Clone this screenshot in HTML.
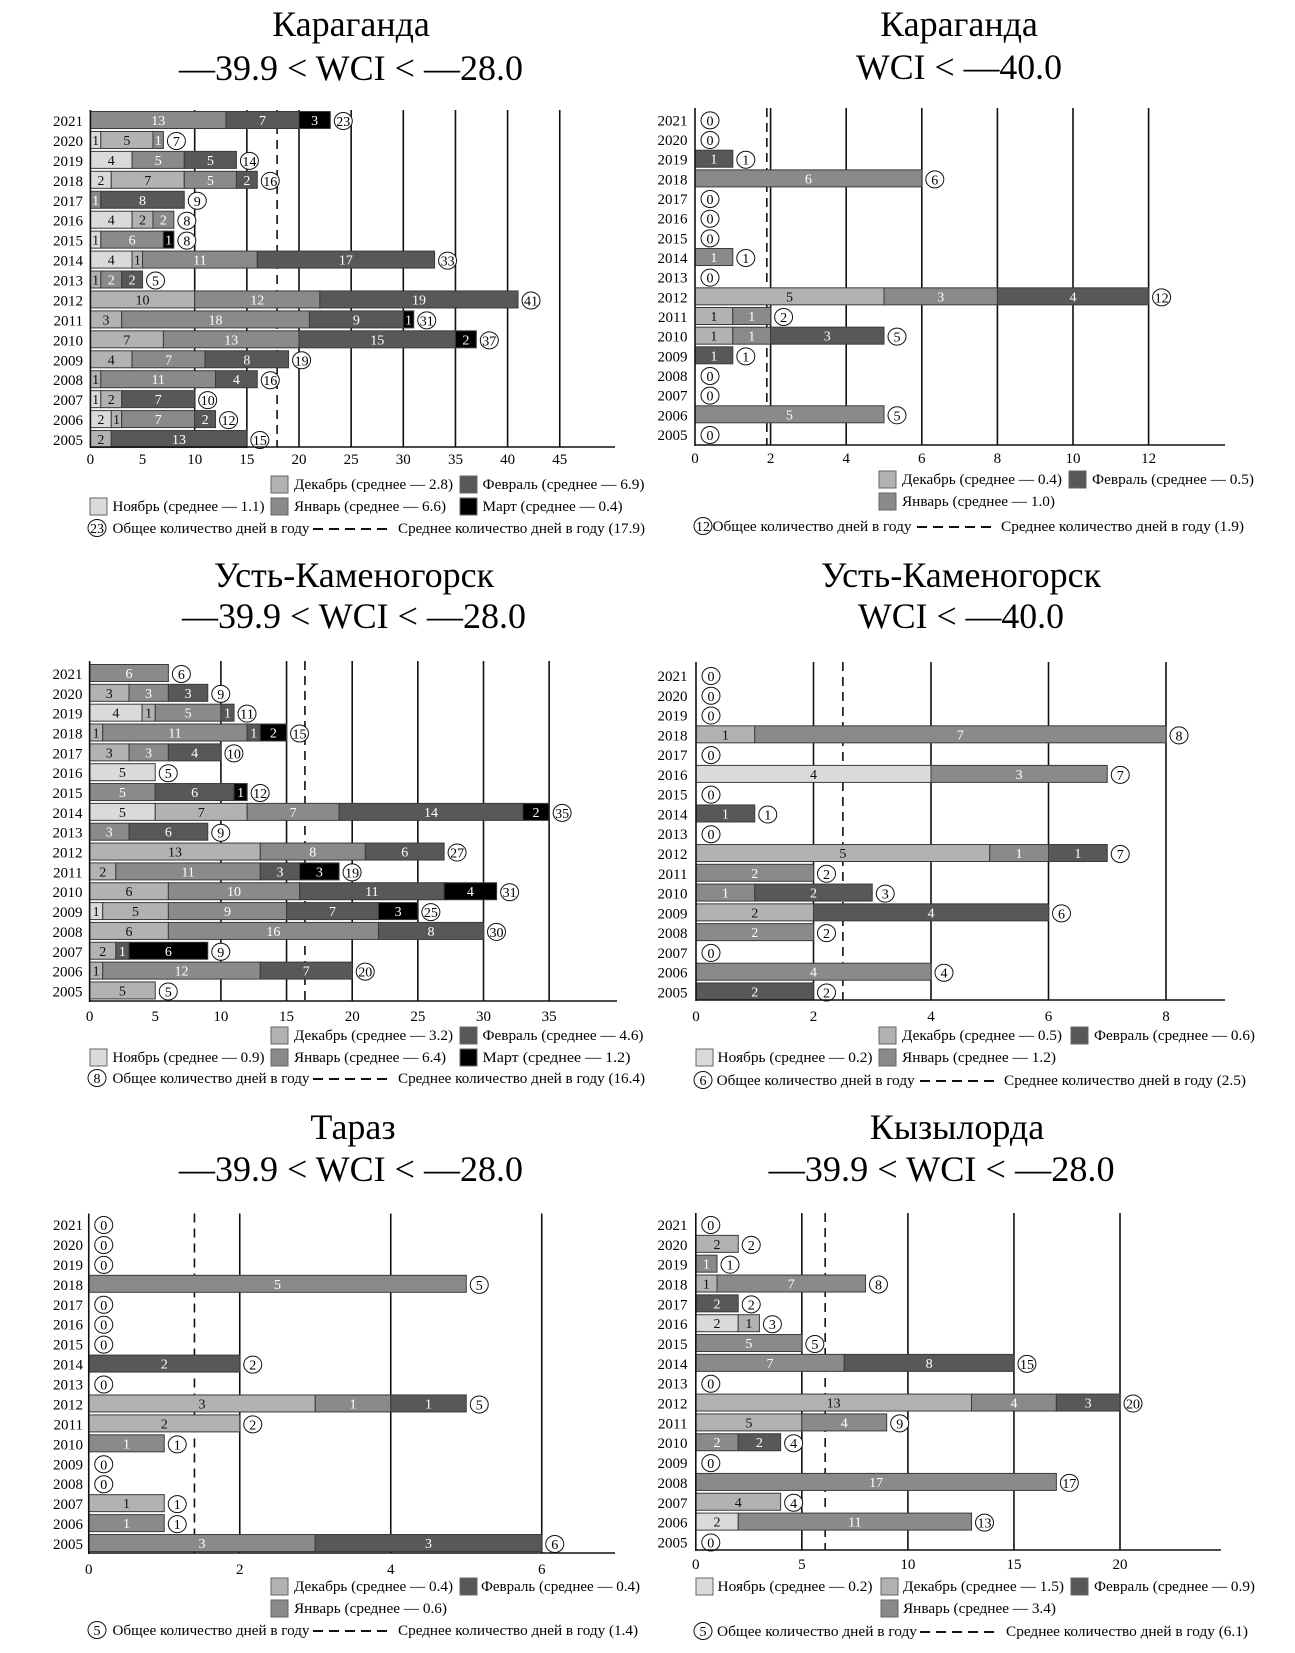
<!DOCTYPE html>
<html><head><meta charset="utf-8"><style>
body{margin:0;background:#fff}
svg{display:block;font-family:"Liberation Serif",serif}
</style></head><body>
<svg id="root" xmlns="http://www.w3.org/2000/svg" width="1295" height="1653" viewBox="0 0 1295 1653"></svg>
<script>
const years = [2021,2020,2019,2018,2017,2016,2015,2014,2013,2012,2011,2010,2009,2008,2007,2006,2005];
// Karaganda -39.9<WCI<-28.0
const kmNov = [0,1,4,2,0,4,1,4,0,0,0,0,0,0,1,2,0];
const kmDec = [0,5,0,7,0,2,0,1,1,10,3,7,4,1,2,1,2];
const kmJan = [13,1,5,5,1,2,6,11,2,12,18,13,7,11,0,7,0];
const kmFeb = [7,0,5,2,8,0,0,17,2,19,9,15,8,4,7,2,13];
const kmMar = [3,0,0,0,0,0,1,0,0,0,1,2,0,0,0,0,0];
const kmTicks = [0,5,10,15,20,25,30,35,40,45];
// Karaganda WCI<-40
const kcDec = [0,0,0,0,0,0,0,0,0,5,1,1,0,0,0,0,0];
const kcJan = [0,0,0,6,0,0,0,1,0,3,1,1,0,0,0,5,0];
const kcFeb = [0,0,1,0,0,0,0,0,0,4,0,3,1,0,0,0,0];
const kcTicks = [0,2,4,6,8,10,12];
// Ust-Kamenogorsk mid
const umNov = [0,0,4,0,0,5,0,5,0,0,0,0,1,0,0,0,0];
const umDec = [0,3,1,1,3,0,0,7,0,13,2,6,5,6,2,1,5];
const umJan = [6,3,5,11,3,0,5,7,3,8,11,10,9,16,0,12,0];
const umFeb = [0,3,1,1,4,0,6,14,6,6,3,11,7,8,1,7,0];
const umMar = [0,0,0,2,0,0,1,2,0,0,3,4,3,0,6,0,0];
const umTicks = [0,5,10,15,20,25,30,35];
// Ust-Kamenogorsk cold
const ucNov = [0,0,0,0,0,4,0,0,0,0,0,0,0,0,0,0,0];
const ucDec = [0,0,0,1,0,0,0,0,0,5,0,0,2,0,0,0,0];
const ucJan = [0,0,0,7,0,3,0,0,0,1,2,1,0,2,0,4,0];
const ucFeb = [0,0,0,0,0,0,0,1,0,1,0,2,4,0,0,0,2];
const ucTicks = [0,2,4,6,8];
// Taraz
const tzDec = [0,0,0,0,0,0,0,0,0,3,2,0,0,0,1,0,0];
const tzJan = [0,0,0,5,0,0,0,0,0,1,0,1,0,0,0,1,3];
const tzFeb = [0,0,0,0,0,0,0,2,0,1,0,0,0,0,0,0,3];
const tzTicks = [0,2,4,6];
// Kyzylorda
const kzNov = [0,0,0,0,0,2,0,0,0,0,0,0,0,0,0,2,0];
const kzDec = [0,2,0,1,0,1,0,0,0,13,5,0,0,0,4,0,0];
const kzJan = [0,0,1,7,0,0,5,7,0,4,4,2,0,17,0,11,0];
const kzFeb = [0,0,0,0,2,0,0,8,0,3,0,2,0,0,0,0,0];
const kzTicks = [0,5,10,15,20];
const means = {km:17.9,kc:1.9,um:16.4,uc:2.5,tz:1.4,kz:6.1};

const COL = {nov:'#dadada',dec:'#b2b2b2',jan:'#8a8a8a',feb:'#585858',mar:'#000000'};
const TXT = {nov:'#111',dec:'#111',jan:'#fff',feb:'#fff',mar:'#fff'};
const NS='http://www.w3.org/2000/svg';
const root=document.getElementById('root');
function mk(tag,attrs,parent,text){const e=document.createElementNS(NS,tag);for(const k in attrs)e.setAttribute(k,attrs[k]);if(text!==undefined)e.textContent=text;(parent||root).appendChild(e);return e;}

function chart(c){
  const g=mk('g',{});
  
  
  const X=v=>c.x0+v*c.unit;
  const Y=i=>c.c0+i*c.pitch;
  // title
  const t1=mk('text',{x:c.tx,y:c.ty1,'text-anchor':'middle','font-size':36},g,c.t1);
  
  
  const t2=mk('text',{x:c.tx2||c.tx,y:c.ty2,'text-anchor':'middle','font-size':36,textLength:c.tw2,lengthAdjust:'spacingAndGlyphs'},g,c.t2);
  
  
  // gridlines
  c.ticks.forEach(t=>{
    if(t>0 && !(c.noGrid||[]).includes(t)){
      const l=mk('line',{x1:X(t),x2:X(t),y1:c.top,y2:c.axis,stroke:'#111','stroke-width':1.6},g);
      
      
    }
    const tl=mk('text',{x:X(t),y:c.tickY,'text-anchor':'middle','font-size':15},g,String(t));
    
    
  });
  // mean dashed
  const md=mk('line',{x1:X(c.mean),x2:X(c.mean),y1:c.top,y2:c.axis,stroke:'#111','stroke-width':1.6,'stroke-dasharray':'9,6'},g);
  
  
  // bars
  years.forEach((yr,i)=>{
    const cy=Y(i);
    const yl=mk('text',{x:c.yLabX,y:cy+6,'text-anchor':'end','font-size':15},g,String(yr));
    
    
    let acc=0;
    c.series.forEach(s=>{
      const v=s.vals[i];
      if(!v) return;
      const r=mk('rect',{x:X(acc),y:cy-8.5,width:v*c.unit,height:17,fill:COL[s.k],stroke:'#3a3a3a','stroke-width':1},g);
      
      
      const lt=mk('text',{x:X(acc+v/2),y:cy+5,'text-anchor':'middle','font-size':14,fill:TXT[s.k]},g,String(v));
      
      
      acc+=v;
    });
    const cx = acc>0 ? X(acc)+13 : c.x0+15;
    const ci=mk('ellipse',{cx:cx,cy:cy+1,rx:9,ry:8.5,fill:'#fff',stroke:'#111','stroke-width':1},g);
    
    
    const ct=mk('text',{x:cx,y:cy+6,'text-anchor':'middle','font-size':14},g,String(acc));
    if(acc>=10){ct.setAttribute('textLength',14);ct.setAttribute('lengthAdjust','spacingAndGlyphs');}
    
    
  });
  // axes
  const ya=mk('line',{x1:c.x0,x2:c.x0,y1:c.top,y2:c.axis+1,stroke:'#111','stroke-width':1.6},g);
  
  
  const xa=mk('line',{x1:c.x0,x2:c.xEnd,y1:c.axis,y2:c.axis,stroke:'#111','stroke-width':1.6},g);
  
  
  // legend
  c.legend.forEach(L=>{
    const sw=mk('rect',{x:L.sx,y:L.y-13,width:17,height:17,fill:COL[L.k],stroke:'#666','stroke-width':1},g);
    
    
    const lt=mk('text',{x:L.tx,y:L.y,'font-size':15,textLength:L.tw,lengthAdjust:'spacingAndGlyphs'},g,L.text);
    
    
  });
  const R=c.row3;
  const lc=mk('ellipse',{cx:R.cx,cy:R.y-5,rx:9,ry:8.5,fill:'#fff',stroke:'#111','stroke-width':1},g);
  
  
  const lcn=mk('text',{x:R.cx,y:R.y,'text-anchor':'middle','font-size':14},g,R.n);
  if(R.n.length>1){lcn.setAttribute('textLength',14);lcn.setAttribute('lengthAdjust','spacingAndGlyphs');}
  
  
  const a=mk('text',{x:R.t1x,y:R.y,'font-size':15,textLength:R.t1w,lengthAdjust:'spacingAndGlyphs'},g,'Общее количество дней в году');
  
  
  const dl=mk('line',{x1:R.d1,x2:R.d2,y1:R.y-4,y2:R.y-4,stroke:'#111','stroke-width':2,'stroke-dasharray':'10,6'},g);
  
  
  const b=mk('text',{x:R.t2x,y:R.y,'font-size':15,textLength:R.t2w,lengthAdjust:'spacingAndGlyphs'},g,'Среднее количество дней в году ('+R.mean+')');
  
  
}

const midT='—39.9 < WCI < —28.0', coldT='WCI < —40.0';
function leftRow3(y,n,mean,t2w){return {y:y,cx:97,n:n,t1x:112.5,t1w:197,d1:313,d2:392,t2x:398,t2w:t2w,mean:mean};}
function rightRow3(y,n,mean,t1x,t1w,d1,d2,t2x,t2w){return {y:y,cx:703,n:n,t1x:t1x,t1w:t1w,d1:d1,d2:d2,t2x:t2x,t2w:t2w,mean:mean};}

chart({id:'karaganda-mid',t1:'Караганда',t2:midT,tx:351,ty1:36,ty2:80,tw2:344,
  x0:90.4,unit:10.43,xEnd:615,top:110,axis:447,c0:120,pitch:19.94,tickY:464,yLabX:83,
  ticks:kmTicks,noGrid:[5],mean:means.km,
  series:[{k:'nov',vals:kmNov},{k:'dec',vals:kmDec},{k:'jan',vals:kmJan},{k:'feb',vals:kmFeb},{k:'mar',vals:kmMar}],
  legend:[{k:'dec',sx:271,y:489,tx:294,tw:159,text:'Декабрь (среднее — 2.8)'},
          {k:'feb',sx:460,y:489,tx:482.5,tw:162,text:'Февраль (среднее — 6.9)'},
          {k:'nov',sx:90,y:511,tx:112.5,tw:152,text:'Ноябрь (среднее — 1.1)'},
          {k:'jan',sx:271,y:511,tx:294,tw:152,text:'Январь (среднее — 6.6)'},
          {k:'mar',sx:460,y:511,tx:482.5,tw:140,text:'Март (среднее — 0.4)'}],
  row3:leftRow3(533,'23','17.9',247)});

chart({id:'karaganda-cold',t1:'Караганда',t2:coldT,tx:959,ty1:36,ty2:79,tw2:206,
  x0:695,unit:37.8,xEnd:1225,top:108,axis:445,c0:119.4,pitch:19.66,tickY:463,yLabX:687.5,
  ticks:kcTicks,mean:means.kc,
  series:[{k:'dec',vals:kcDec},{k:'jan',vals:kcJan},{k:'feb',vals:kcFeb}],
  legend:[{k:'dec',sx:879,y:484,tx:902,tw:160,text:'Декабрь (среднее — 0.4)'},
          {k:'feb',sx:1069,y:484,tx:1092,tw:162,text:'Февраль (среднее — 0.5)'},
          {k:'jan',sx:879,y:506,tx:902,tw:153,text:'Январь (среднее — 1.0)'}],
  row3:rightRow3(531,'12','1.9',712.5,199,917,995,1001,243)});

chart({id:'ust-kamenogorsk-mid',t1:'Усть-Каменогорск',t2:midT,tx:354,ty1:587,ty2:628,tw2:344,
  x0:89.6,unit:13.13,xEnd:617,top:661,axis:1001,c0:673,pitch:19.84,tickY:1021,yLabX:82.5,
  ticks:umTicks,noGrid:[5],mean:means.um,
  series:[{k:'nov',vals:umNov},{k:'dec',vals:umDec},{k:'jan',vals:umJan},{k:'feb',vals:umFeb},{k:'mar',vals:umMar}],
  legend:[{k:'dec',sx:271,y:1040,tx:294,tw:159,text:'Декабрь (среднее — 3.2)'},
          {k:'feb',sx:460,y:1040,tx:482.5,tw:161,text:'Февраль (среднее — 4.6)'},
          {k:'nov',sx:90,y:1062,tx:112.5,tw:152,text:'Ноябрь (среднее — 0.9)'},
          {k:'jan',sx:271,y:1062,tx:294,tw:152,text:'Январь (среднее — 6.4)'},
          {k:'mar',sx:460,y:1062,tx:482.5,tw:148,text:'Март (среднее  —  1.2)'}],
  row3:leftRow3(1083,'8','16.4',247)});

chart({id:'ust-kamenogorsk-cold',t1:'Усть-Каменогорск',t2:coldT,tx:961,ty1:587,ty2:628,tw2:206,
  x0:696,unit:58.75,xEnd:1225,top:662,axis:1000,c0:675,pitch:19.78,tickY:1021,yLabX:687.5,
  ticks:ucTicks,mean:means.uc,
  series:[{k:'nov',vals:ucNov},{k:'dec',vals:ucDec},{k:'jan',vals:ucJan},{k:'feb',vals:ucFeb}],
  legend:[{k:'dec',sx:879,y:1040,tx:902,tw:160,text:'Декабрь (среднее — 0.5)'},
          {k:'feb',sx:1071,y:1040,tx:1094,tw:161,text:'Февраль (среднее — 0.6)'},
          {k:'nov',sx:696,y:1062,tx:717.5,tw:155,text:'Ноябрь (среднее — 0.2)'},
          {k:'jan',sx:879,y:1062,tx:902,tw:154,text:'Январь (среднее — 1.2)'}],
  row3:rightRow3(1085,'6','2.5',716.7,198,920,997,1004,242)});

chart({id:'taraz-mid',t1:'Тараз',t2:midT,tx:353,tx2:351,ty1:1139,ty2:1181,tw2:344,
  x0:88.75,unit:75.5,xEnd:615,top:1213.5,axis:1553,c0:1224,pitch:19.94,tickY:1574,yLabX:83,
  ticks:tzTicks,mean:means.tz,
  series:[{k:'dec',vals:tzDec},{k:'jan',vals:tzJan},{k:'feb',vals:tzFeb}],
  legend:[{k:'dec',sx:271,y:1591,tx:294,tw:159,text:'Декабрь (среднее — 0.4)'},
          {k:'feb',sx:460,y:1591,tx:481,tw:159,text:'Февраль (среднее — 0.4)'},
          {k:'jan',sx:271,y:1613,tx:294,tw:153,text:'Январь (среднее — 0.6)'}],
  row3:leftRow3(1635,'5','1.4',240)});

chart({id:'kyzylorda-mid',t1:'Кызылорда',t2:midT,tx:957,tx2:941.6,ty1:1139,ty2:1181,tw2:346,
  x0:695.8,unit:21.21,xEnd:1221,top:1213,axis:1550,c0:1224,pitch:19.84,tickY:1569,yLabX:687.5,
  ticks:kzTicks,mean:means.kz,
  series:[{k:'nov',vals:kzNov},{k:'dec',vals:kzDec},{k:'jan',vals:kzJan},{k:'feb',vals:kzFeb}],
  legend:[{k:'nov',sx:696,y:1591,tx:717.5,tw:155,text:'Ноябрь (среднее — 0.2)'},
          {k:'dec',sx:881,y:1591,tx:903,tw:161,text:'Декабрь (среднее — 1.5)'},
          {k:'feb',sx:1071,y:1591,tx:1094,tw:161,text:'Февраль (среднее — 0.9)'},
          {k:'jan',sx:881,y:1613,tx:903,tw:153,text:'Январь (среднее — 3.4)'}],
  row3:rightRow3(1636,'5','6.1',717,200,920,997,1006,242)});
</script>
</body></html>
